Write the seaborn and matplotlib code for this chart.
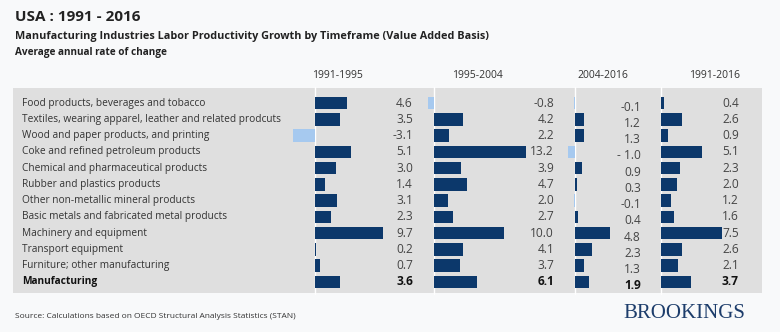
import matplotlib
matplotlib.use("Agg")
import matplotlib.pyplot as plt
import matplotlib.transforms as mtrans
import seaborn as sns
import pandas as pd

categories = [
    "Food products, beverages and tobacco",
    "Textiles, wearing apparel, leather and related prodcuts",
    "Wood and paper products, and printing",
    "Coke and refined petroleum products",
    "Chemical and pharmaceutical products",
    "Rubber and plastics products",
    "Other non-metallic mineral products",
    "Basic metals and fabricated metal products",
    "Machinery and equipment",
    "Transport equipment",
    "Furniture; other manufacturing",
    "Manufacturing",
]
periods = ["1991-1995", "1995-2004", "2004-2016", "1991-2016"]
v_1991_1995 = [4.6, 3.5, -3.1, 5.1, 3.0, 1.4, 3.1, 2.3, 9.7, 0.2, 0.7, 3.6]
v_1995_2004 = [-0.8, 4.2, 2.2, 13.2, 3.9, 4.7, 2.0, 2.7, 10.0, 4.1, 3.7, 6.1]
v_2004_2016 = [-0.1, 1.2, 1.3, -1.0, 0.9, 0.3, -0.1, 0.4, 4.8, 2.3, 1.3, 1.9]
v_1991_2016 = [0.4, 2.6, 0.9, 5.1, 2.3, 2.0, 1.2, 1.6, 7.5, 2.6, 2.1, 3.7]
labels_2004_2016 = ["-0.1", "1.2", "1.3", "- 1.0", "0.9", "0.3", "-0.1", "0.4", "4.8", "2.3", "1.3", "1.9"]

series = [v_1991_1995, v_1995_2004, v_2004_2016, v_1991_2016]

W, H = 780, 332
NAVY = "#0c386b"
LIGHT = "#a6c9ef"
PANEL = "#dfdfdf"

sns.set_theme(style="white")
plt.rcParams["font.family"] = ["Open Sans", "DejaVu Sans"]

fig = plt.figure(figsize=(W / 100, H / 100), dpi=100)
fig.patch.set_facecolor("#f8f9fa")

def fx(px):
    return px / W

def fy(py):
    return 1 - py / H

# gray panel (background axes)
bg = fig.add_axes([fx(13), fy(293), fx(762) - fx(13), fy(88) - fy(293)], zorder=-5)
bg.set_facecolor(PANEL)
bg.set_xticks([])
bg.set_yticks([])
for s in bg.spines.values():
    s.set_visible(False)

# titles
fig.text(fx(15), fy(17), "USA : 1991 - 2016", fontsize=11, fontweight="bold", color="#222222", va="center")
fig.text(fx(15), fy(36), "Manufacturing Industries Labor Productivity Growth by Timeframe (Value Added Basis)",
         fontsize=7.8, fontweight="bold", color="#222222", va="center")
fig.text(fx(15), fy(53), "Average annual rate of change", fontsize=7.2, fontweight="bold", color="#222222", va="center")

# panel geometry: (left px, right px, xmin, xmax, label right px, header center px, label y offset)
geom = [
    (280, 420, -5.0, 15.0, 413, 337, 0.0),
    (420, 560, -2.0, 18.0, 554, 477, 0.0),
    (560, 645, -2.05, 9.6, 641, 603, 0.25),
    (645, 762, -1.98, 12.5, 739, 715, 0.0),
]
top_px, bot_px = 95, 290

for k, (vals, g) in enumerate(zip(series, geom)):
    L, R, a, b, lab_x, head_x, yoff = g
    ax = fig.add_axes([fx(L), fy(bot_px), fx(R) - fx(L), fy(top_px) - fy(bot_px)])
    ax.patch.set_alpha(0)
    df = pd.DataFrame({"cat": categories, "val": vals})
    pal = {c: (NAVY if v >= 0 else LIGHT) for c, v in zip(categories, vals)}
    sns.barplot(data=df, x="val", y="cat", hue="cat", palette=pal, legend=False,
                orient="h", width=0.78, ax=ax, saturation=1, zorder=2,
                linewidth=0, edgecolor="none")
    ax.set_xlim(a, b)
    ax.set_ylim(len(categories) - 0.5, -0.5)
    ax.axvline(0, color="white", lw=1.0, zorder=1, ymin=-0.02, ymax=1.04, clip_on=False)
    ax.set_xlabel("")
    ax.set_ylabel("")
    ax.set_xticks([])
    ax.set_yticks([])
    for s in ax.spines.values():
        s.set_visible(False)
    trans = mtrans.blended_transform_factory(fig.transFigure, ax.transData)
    labels = labels_2004_2016 if k == 2 else [f"{v:.1f}" for v in vals]
    for i, t in enumerate(labels):
        last = i == len(categories) - 1
        ax.text(fx(lab_x), i + yoff, t, transform=trans, ha="right", va="center",
                fontsize=8.6, color="#111111" if last else "#444444",
                fontweight="bold" if last else "normal")
    fig.text(fx(head_x), fy(75), periods[k], ha="center", va="center", fontsize=7.5, color="#333333")

    if k == 0:
        for i, c in enumerate(categories):
            last = i == len(categories) - 1
            ax.text(fx(22), i, c, transform=trans, ha="left", va="center", fontsize=7.3,
                    color="#111111" if last else "#333333", fontweight="bold" if last else "normal")

fig.text(fx(15), fy(316), "Source: Calculations based on OECD Structural Analysis Statistics (STAN)",
         fontsize=6, color="#333333", va="center")
fig.text(fx(745), fy(313), "BROOKINGS", fontsize=15, color="#1d3d6b", ha="right", va="center",
         family=["Liberation Serif", "DejaVu Serif"])

fig.savefig("out.png", dpi=100, facecolor=fig.get_facecolor())
